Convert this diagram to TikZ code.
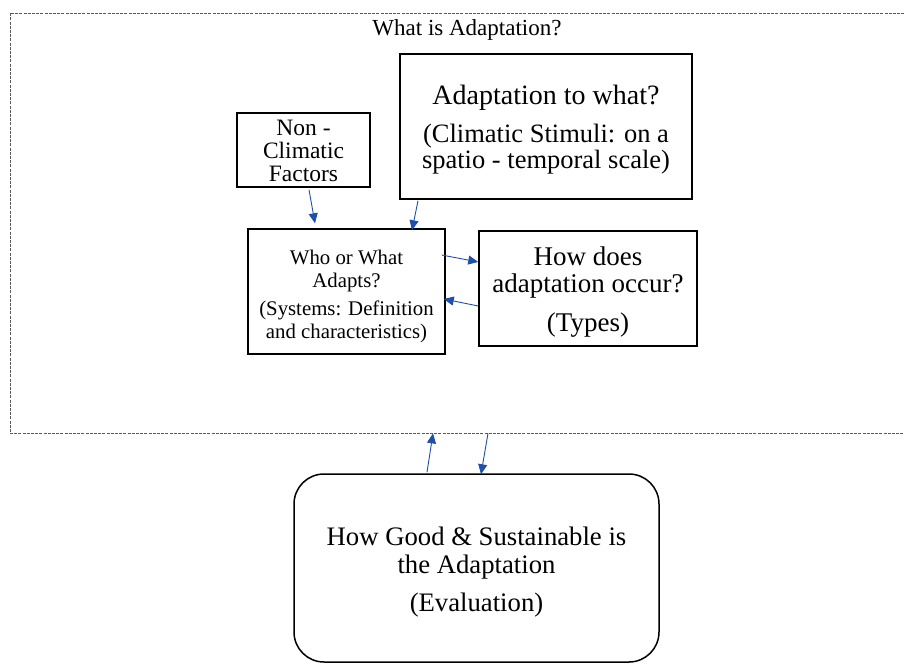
\documentclass[tikz,border=0pt]{standalone}
\usepackage{fontspec}
\setmainfont{Liberation Serif}
\usetikzlibrary{arrows.meta}
\definecolor{arrblue}{RGB}{30,80,170}
\tikzset{
  box/.style={draw=black, line width=1.5pt, inner sep=0pt},
  txt/.style={align=center, inner sep=0pt},
  arr/.style={draw=arrblue, line width=0.9pt, -{Triangle[length=10pt,width=9pt]}},
  outerbox/.style={draw=black!65, line width=0.7pt, dash pattern=on 3pt off 1.2pt, inner sep=0pt},
}
\begin{document}
\begin{tikzpicture}[x=1pt,y=-1pt]
\useasboundingbox (0,0) rectangle (904,664);
\node[outerbox, minimum width=905pt, minimum height=420pt] (outer) at (462.5,223) {};
\node[font=\fontsize{23}{24}\selectfont] (title) at (467,30) {What is Adaptation?};
% boxes
\node[box, minimum width=133pt, minimum height=74pt] (nc) at (303.5,150) {};
\node[box, minimum width=292pt, minimum height=145pt] (to) at (546,126.5) {};
\node[box, minimum width=197pt, minimum height=125pt] (who) at (346.5,291.5) {};
\node[box, minimum width=218pt, minimum height=115pt] (how) at (588,288.5) {};
\node[box, rounded corners=30pt, minimum width=365pt, minimum height=188pt] (eval) at (476.5,568) {};
% texts
\node[txt, font=\fontsize{23.5}{23}\selectfont] (nct) at (303.5,151) {Non -\\Climatic\\Factors};
\node[txt, font=\fontsize{26.5}{26}\selectfont] (tot) at (546,130) {{\fontsize{28}{26}\selectfont Adaptation to what?}\\[12pt](Climatic Stimuli: on a\\spatio - temporal scale)};
\node[txt, font=\fontsize{20.8}{23}\selectfont] (whot) at (346.5,296) {Who or What\\Adapts?\\[5pt](Systems: Definition\\and characteristics)};
\node[txt, font=\fontsize{27}{27}\selectfont] (howt) at (588,292) {How does\\adaptation occur?\\[12pt](Types)};
\node[txt, font=\fontsize{26.7}{28}\selectfont] (evalt) at (476.5,572) {How Good \& Sustainable is\\the Adaptation\\[10pt](Evaluation)};
% connectors
\draw[arr] ([xshift=5.5pt,yshift=-2pt]nc.south) -- ([xshift=-31.5pt,yshift=5pt]who.north);
\draw[arr] ([xshift=-128pt,yshift=-1pt]to.south) -- ([xshift=65.5pt,yshift=-2pt]who.north);
\draw[arr] ([xshift=-4pt,yshift=36.5pt]who.east) -- ([yshift=26.5pt]how.west);
\draw[arr] ([yshift=-17.5pt]how.west) -- ([xshift=-2pt,yshift=-7.5pt]who.east);
\draw[arr] ([xshift=-49.5pt,yshift=1pt]eval.north) -- ([xshift=-29.5pt]outer.south);
\draw[arr] ([xshift=25.5pt]outer.south) -- ([xshift=4.5pt,yshift=-1pt]eval.north);
\end{tikzpicture}
\end{document}
